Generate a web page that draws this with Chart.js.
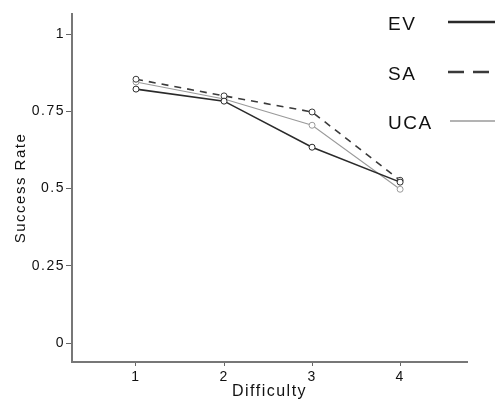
<!DOCTYPE html>
<html>
<head>
<meta charset="utf-8">
<script src="https://cdn.jsdelivr.net/npm/chart.js@4/dist/chart.umd.min.js"></script>
<style>
html,body{margin:0;padding:0;background:#fff;}
#wrap{width:495px;height:401px;position:relative;}
</style>
</head>
<body>
<div id="wrap"><canvas id="c"></canvas></div>
<script>
// ---- data ----
const difficulty = [1, 2, 3, 4];
const seriesNames = ['EV', 'SA', 'UCA'];
const ev  = [0.822, 0.783, 0.634, 0.521];
const sa  = [0.854, 0.800, 0.748, 0.527];
const uca = [0.845, 0.790, 0.705, 0.498];
const yTickValues = [0, 0.25, 0.5, 0.75, 1];
const xTickValues = [1, 2, 3, 4];

const FONT = "'Liberation Sans', Arial, sans-serif";

function pts(vals){ return difficulty.map((d,i)=>({x:d, y:vals[i]})); }

const styles = [
  {color:'#2a2a2a', width:1.6, dash:[],    legendWidth:2.6},
  {color:'#3a3a3a', width:1.6, dash:[7,6], legendWidth:2.6},
  {color:'#9a9a9a', width:1.1, dash:[],    legendWidth:1.3}
];
const seriesData = [ev, sa, uca];

const datasets = seriesNames.map((name,i)=>({
  label: name,
  data: pts(seriesData[i]),
  borderColor: styles[i].color,
  borderWidth: styles[i].width,
  borderDash: styles[i].dash,
  pointRadius: 3,
  pointBorderWidth: 1,
  pointBorderColor: styles[i].color,
  pointBackgroundColor: '#fff',
  tension: 0,
  fill: false
}));

const spacingPlugin = {
  id: 'spacing',
  beforeUpdate(chart){ chart.ctx.letterSpacing = '1.5px'; },
  beforeDraw(chart){ chart.ctx.letterSpacing = '1.5px'; }
};

const legendPlugin = {
  id: 'customLegend',
  afterDraw(chart){
    const ctx = chart.ctx;
    const rows = [22, 72, 121];
    ctx.save();
    ctx.letterSpacing = '1.5px';
    chart.data.datasets.forEach((ds,i)=>{
      ctx.font = "19px " + FONT;
      ctx.fillStyle = '#111';
      ctx.textAlign = 'left';
      ctx.textBaseline = 'middle';
      ctx.fillText(ds.label, 388, rows[i] + 3);
      ctx.beginPath();
      ctx.strokeStyle = styles[i].color;
      ctx.lineWidth = styles[i].legendWidth;
      ctx.setLineDash(i===1 ? [16,9] : []);
      ctx.moveTo(i===2 ? 450 : 448, rows[i]);
      ctx.lineTo(495, rows[i]);
      ctx.stroke();
    });
    ctx.restore();
  }
};

new Chart(document.getElementById('c'), {
  type: 'line',
  data: { datasets },
  options: {
    responsive: true,
    maintainAspectRatio: false,
    animation: false,
    layout: { padding: { top: 14, right: 28, left: 0, bottom: 0 } },
    plugins: { legend: { display: false }, tooltip: { enabled: false } },
    scales: {
      x: {
        type: 'linear',
        min: 0.273,
        max: 4.76,
        afterBuildTicks(s){ s.ticks = xTickValues.map(v=>({value:v})); },
        afterFit(s){ s.height = 39; },
        grid: { drawOnChartArea: false, drawTicks: true, tickLength: 4, color: '#666' },
        border: { display: true, color: '#777', width: 2 },
        ticks: { color: '#111', font: { family: FONT, size: 14 }, padding: 3, callback: v => String(v) },
        title: { display: true, text: 'Difficulty', color: '#111', font: { family: FONT, size: 16 }, padding: { top: 0, bottom: 0 } }
      },
      y: {
        type: 'linear',
        min: -0.061,
        max: 1.065,
        afterBuildTicks(s){ s.ticks = yTickValues.map(v=>({value:v})); },
        afterFit(s){ s.width = 72; },
        grid: { drawOnChartArea: false, drawTicks: true, tickLength: 6, color: '#666' },
        border: { display: true, color: '#777', width: 2 },
        ticks: { color: '#111', font: { family: FONT, size: 14 }, padding: 1, callback: v => String(v) },
        title: { display: true, text: 'Success Rate', color: '#111', font: { family: FONT, size: 15 }, padding: { top: 12, bottom: 0 } }
      }
    }
  },
  plugins: [spacingPlugin, legendPlugin]
});
</script>
</body>
</html>
